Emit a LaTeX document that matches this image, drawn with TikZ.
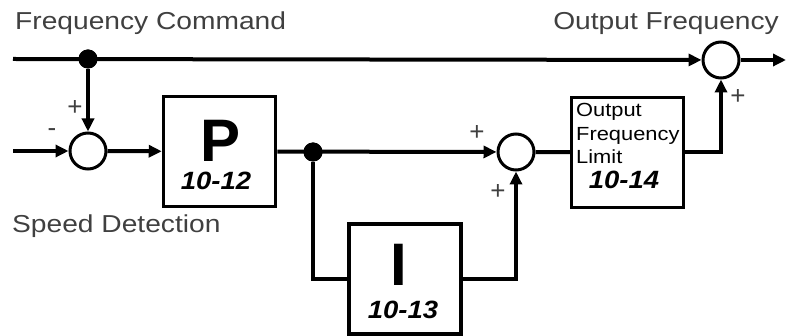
\documentclass[tikz,border=0pt]{standalone}
\usepackage{fontspec}
\usepackage{tikz}
\usetikzlibrary{arrows.meta,positioning}
\setmainfont{Liberation Sans}
\newfontfamily\lblfont[FakeStretch=1.15]{Liberation Sans}
\newfontfamily\parfont[FakeStretch=1.1]{Liberation Sans}
\definecolor{lbl_gray}{RGB}{64,64,64}

\begin{document}
\begin{tikzpicture}[x=1pt, y=-1pt,
          wire/.style={line width=4pt},
          arr/.style={wire, -{Triangle[length=13pt,width=12pt]}},
          blk/.style={draw, line width=3.5pt, minimum width=112pt, minimum height=110pt, inner sep=0pt},
          sum/.style={draw, circle, line width=3pt, minimum size=36pt, inner sep=0pt},
          dot/.style={circle, fill, minimum size=19pt, inner sep=0pt},
          lbl/.style={font=\lblfont\fontsize{24.5}{28}\selectfont, text=lbl_gray, inner sep=0pt},
          sgn/.style={font=\fontsize{26}{28}\selectfont, text=lbl_gray, inner sep=0pt},
          gain/.style={font=\bfseries\fontsize{60}{60}\selectfont, inner sep=0pt, anchor=base},
          par/.style={font=\parfont\bfseries\itshape\fontsize{25}{28}\selectfont, inner sep=0pt, anchor=base}]
        \useasboundingbox (0,0) rectangle (786,336);
        % blocks
        \node[blk] (pbox) at (219.5,151.5) {};
        \node[blk] (ibox) at (405,279) {};
        \node[blk] (lim)  at (627.5,152.5) {};
        \node[sum] (sum1) at (88,151) {};
        \node[sum] (sum2) at (516,152) {};
        \node[sum] (sum3) at (721,60) {};
        \node[dot] (dot1) at (88,59) {};
        \node[dot] (dot2) at (313,152) {};
        \coordinate (fcmd) at (13,59);
        \coordinate (spd)  at (13,151);
        \coordinate (fout) at (786,60);
        % block texts
        \node[gain] (ptxt) at (221,162) {P};
        \node[par]  (pnum) at (216,190) {10-12};
        \node[gain] (itxt) at (399,285) {I};
        \node[par]  (inum) at (403,318) {10-13};
        \node[anchor=base west, align=left, inner sep=0pt,
              font=\lblfont\fontsize{19}{23.5}\selectfont] (ltxt) at (576,164)
          {Output\\Frequency\\Limit};
        \node[par]  (lnum) at (624,189) {10-14};
        % signal labels
        \node[lbl, anchor=base west] (fcl) at (15,30) {Frequency Command};
        \node[lbl, anchor=base east] (fol) at (779,30) {Output Frequency};
        \node[lbl, anchor=base west] (sdl) at (12,233) {Speed Detection};
        \node[sgn] (s1p) at (75,108) {+};
        \node[sgn] (s1m) at (52,133) {-};
        \node[sgn] (s2a) at (477,133) {+};
        \node[sgn] (s2b) at (498,192) {+};
        \node[sgn] (s3p) at (738,97) {+};
        % connectors
        \draw[arr] (fcmd) -- (sum3);
        \draw[arr] (dot1) -- (sum1);
        \draw[arr] (spd) -- (sum1);
        \draw[arr] (sum1) -- (pbox);
        \draw[arr] (pbox) -- (sum2);
        \draw[wire] (dot2) |- (ibox);
        \draw[arr] (ibox) -| (sum2);
        \draw[wire] (sum2) -- (lim);
        \draw[arr] (lim) -| (sum3);
        \draw[arr] (sum3) -- (fout);
        \node[dot] at (dot1) {};
        \node[dot] at (dot2) {};
      \end{tikzpicture}
\end{document}
